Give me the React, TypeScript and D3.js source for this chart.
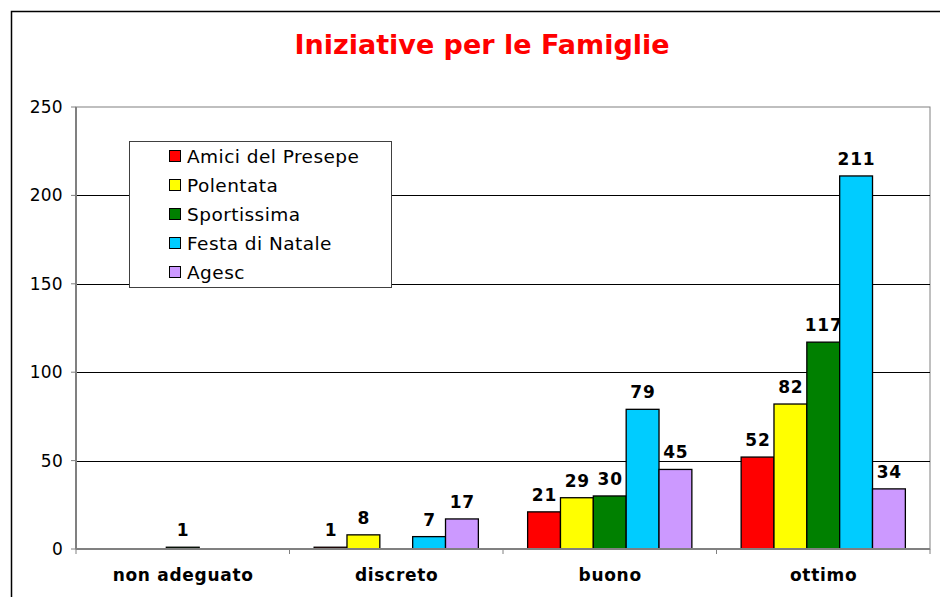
import React from "react";
import * as d3 from "d3";

const categories = ["non adeguato", "discreto", "buono", "ottimo"];
const seriesNames = ["Amici del Presepe", "Polentata", "Sportissima", "Festa di Natale", "Agesc"];
const seriesColors = ["#ff0000", "#ffff00", "#008000", "#00ccff", "#cc99ff"];
const amici: (number | null)[] = [null, 1, 21, 52];
const polentata: (number | null)[] = [null, 8, 29, 82];
const sportissima: (number | null)[] = [1, null, 30, 117];
const festa: (number | null)[] = [null, 7, 79, 211];
const agesc: (number | null)[] = [null, 17, 45, 34];
const yTicks = [0, 50, 100, 150, 200, 250];

const seriesValues = [amici, polentata, sportissima, festa, agesc];

export default function App() {
  const W = 940, H = 597;
  const left = 76, right = 930, top = 107, bottom = 549;
  const x0 = d3.scaleBand<string>().domain(categories).range([left, right]).paddingInner(0).paddingOuter(0);
  const inner = d3.scaleBand<number>().domain(d3.range(seriesNames.length)).range([0, x0.bandwidth()]).paddingOuter(0.75).paddingInner(0);
  const y = d3.scaleLinear().domain([0, 250]).range([bottom, top]);
  const font = "'DejaVu Sans', Verdana, sans-serif";

  return (
    <svg width={W} height={H} style={{ position: "absolute", left: 0, top: 0, display: "block" }}>
      <rect x={0} y={0} width={W} height={H} fill="#fff" />
      <rect x={11.5} y={11.5} width={W + 20} height={H + 20} fill="none" stroke="#000" strokeWidth={1.5} />
      <text x={482} y={54} textAnchor="middle" fill="#ff0000" fontFamily={font} fontWeight="bold" fontSize={27}>
        Iniziative per le Famiglie
      </text>
      <rect x={left} y={top} width={right - left} height={bottom - top} fill="#fff" stroke="#808080" strokeWidth={1} />
      {yTicks.filter(t => t > 0 && t < 250).map(t => (
        <line key={t} x1={left} x2={right} y1={Math.round(y(t)) + 0.5} y2={Math.round(y(t)) + 0.5} stroke="#000" strokeWidth={1} />
      ))}
      {categories.map((c, ci) => (
        <g key={c}>
          {seriesValues.map((vals, si) => {
            const v = vals[ci];
            if (v === null) return null;
            const bx = (x0(c) as number) + (inner(si) as number);
            const bw = inner.bandwidth();
            return (
              <g key={si}>
                <rect x={bx} y={y(v)} width={bw} height={y(0) - y(v)} fill={seriesColors[si]} stroke="#000" strokeWidth={1.3} />
                <text x={bx + bw / 2 + 0.4} y={y(v) - 11} textAnchor="middle" fontFamily={font} fontWeight="bold" fontSize={17} letterSpacing={0.8} fill="#000">
                  {v}
                </text>
              </g>
            );
          })}
        </g>
      ))}
      <line x1={left} x2={left} y1={top} y2={bottom} stroke="#808080" strokeWidth={2} />
      <line x1={left} x2={right} y1={bottom} y2={bottom} stroke="#808080" strokeWidth={2} />
      {yTicks.map(t => (
        <g key={t}>
          <line x1={left - 5} x2={left} y1={y(t)} y2={y(t)} stroke="#808080" strokeWidth={1} />
          <text x={left - 13} y={y(t) + 6} textAnchor="end" fontFamily={font} fontSize={17} letterSpacing={0.3} fill="#000">{t}</text>
        </g>
      ))}
      {[...categories.map(c => x0(c) as number), right].map((xv, i) => (
        <line key={i} x1={xv} x2={xv} y1={bottom} y2={bottom + 5} stroke="#808080" strokeWidth={1} />
      ))}
      {categories.map(c => (
        <text key={c} x={(x0(c) as number) + x0.bandwidth() / 2 + 0.4} y={581} textAnchor="middle" fontFamily={font} fontWeight="bold" fontSize={17} letterSpacing={0.7} fill="#000">
          {c}
        </text>
      ))}
      <rect x={129.5} y={141.5} width={262} height={146} fill="#fff" stroke="#404040" strokeWidth={1} />
      {seriesNames.map((n, i) => (
        <g key={n} transform={`translate(0, ${156 + i * 29})`}>
          <rect x={169.5} y={-5.5} width={11} height={11} fill={seriesColors[i]} stroke="#000" strokeWidth={1} />
          <text x={187} y={7} fontFamily={font} fontSize={18.5} letterSpacing={0.45} fill="#000">{n}</text>
        </g>
      ))}
    </svg>
  );
}
